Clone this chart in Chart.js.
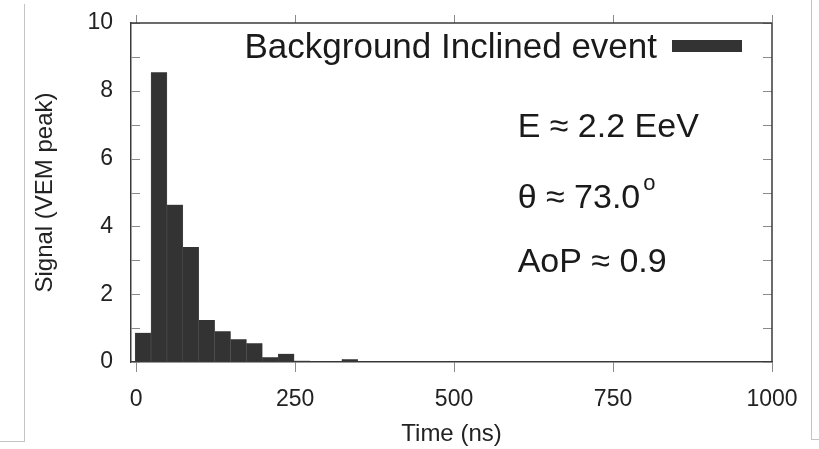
<!DOCTYPE html>
<html><head><meta charset="utf-8">
<script src="https://cdn.jsdelivr.net/npm/chart.js@4/dist/chart.umd.min.js"></script>
<style>
html,body{margin:0;padding:0;background:#fff;}
#wrap{position:relative;width:819px;height:449px;overflow:hidden;}
#c{position:absolute;left:0;top:0;}
.fl{position:absolute;background:#c4c4c4;}
</style></head><body>
<div id="wrap">
<div class="fl" style="left:24px;top:4px;width:1px;height:438px"></div>
<div class="fl" style="left:0;top:441px;width:25px;height:1px"></div>
<div class="fl" style="left:811px;top:0;width:1px;height:440px"></div>
<div class="fl" style="left:811px;top:439px;width:8px;height:1px"></div>
<canvas id="c" width="819" height="449"></canvas>
</div>
<script>
// ---- data ----
const timeNs    = [11, 36, 61, 86, 111, 136, 161, 186, 211, 236, 261, 286, 311, 336, 361, 386, 411, 436];
const signalVEM = [0.86, 8.55, 4.64, 3.39, 1.24, 0.91, 0.67, 0.55, 0.14, 0.24, 0.04, 0.03, 0.03, 0.08, 0.02, 0.02, 0.01, 0.01];
const xTickValues = [0, 250, 500, 750, 1000];
const yTickLabels = [0, 2, 4, 6, 8, 10];
const yMinorTicks = [0, 1, 2, 3, 4, 5, 6, 7, 8, 9, 10];
const seriesLabel = 'Background Inclined event';
const xTitle = 'Time (ns)';
const yTitle = 'Signal (VEM peak)';
const noteLines = ['E ≈ 2.2 EeV', 'θ ≈ 73.0', 'AoP ≈ 0.9'];
const noteSup = ['', 'o', ''];
const noteAnchorX = 600;               // ns
const noteAnchorY = [6.65, 4.55, 2.65]; // signal units (baselines)

const FONT = "'Liberation Sans', Arial, Helvetica, sans-serif";
const BAR = '#333333';

const decor = {
  id: 'decor',
  afterDraw(chart) {
    const {ctx, chartArea: {left, top, right, bottom}, scales: {x, y}} = chart;
    ctx.save();
    const line = (x1, y1, x2, y2) => { ctx.beginPath(); ctx.moveTo(x1, y1); ctx.lineTo(x2, y2); ctx.stroke(); };
    // inward y ticks on left and right
    ctx.strokeStyle = '#8a8a8a'; ctx.lineWidth = 1;
    y.ticks.forEach(t => {
      const py = Math.round(y.getPixelForValue(t.value)) + 0.5;
      line(left, py, left + 9, py);
      line(right - 9, py, right, py);
    });
    // outward top ticks
    x.ticks.forEach(t => {
      const px = Math.round(x.getPixelForValue(t.value)) + 0.5;
      line(px, top, px, top - 8);
    });
    // top and right frame
    ctx.strokeStyle = '#3a3a3a'; ctx.lineWidth = 1.5;
    line(left, top, right, top);
    line(right, top, right, bottom);
    // legend (text then sample box, gnuplot style)
    const ds = chart.data.datasets[0];
    ctx.fillStyle = '#1a1a1a';
    ctx.font = '35px ' + FONT;
    ctx.textAlign = 'right'; ctx.textBaseline = 'alphabetic';
    ctx.fillText(ds.label, right - 115, top + 35);
    ctx.fillStyle = ds.backgroundColor;
    ctx.fillRect(right - 100, top + 17, 70, 12);
    // annotations
    ctx.fillStyle = '#1a1a1a';
    ctx.textAlign = 'left';
    noteLines.forEach((s, i) => {
      const px = x.getPixelForValue(noteAnchorX);
      const py = y.getPixelForValue(noteAnchorY[i]);
      ctx.font = '34px ' + FONT;
      ctx.fillText(s, px, py);
      if (noteSup[i]) {
        const w = ctx.measureText(s).width;
        ctx.font = '22px ' + FONT;
        ctx.fillText(noteSup[i], px + w + 3, py - 18);
      }
    });
    ctx.restore();
  }
};

new Chart(document.getElementById('c'), {
  type: 'bar',
  data: {
    datasets: [{
      label: seriesLabel,
      data: timeNs.map((t, i) => ({x: t, y: signalVEM[i]})),
      backgroundColor: BAR,
      borderColor: '#555555',
      borderWidth: {left: 0.5, right: 0.5, top: 0, bottom: 0},
      borderSkipped: false,
      barPercentage: 1,
      categoryPercentage: 1
    }]
  },
  options: {
    responsive: false,
    devicePixelRatio: 1,
    animation: false,
    layout: {padding: {left: 0, top: 23, right: 47, bottom: 0}},
    plugins: {legend: {display: false}, tooltip: {enabled: false}},
    scales: {
      x: {
        type: 'linear', min: -8, max: 1000, offset: false,
        afterBuildTicks: s => { s.ticks = xTickValues.map(v => ({value: v})); },
        afterFit: s => { s.height = 87; s.paddingLeft = 0; s.paddingRight = 0; },
        grid: {offset: false, drawOnChartArea: false, drawTicks: true, tickLength: 10, color: '#8a8a8a', lineWidth: 1},
        border: {display: true, color: '#3a3a3a', width: 1.5},
        ticks: {font: {family: FONT, size: 23}, color: '#222', padding: 14, maxRotation: 0, autoSkip: false,
                callback: v => String(v)},
        title: {display: true, text: xTitle, font: {family: FONT, size: 24}, color: '#222', padding: {top: 0, bottom: 0}}
      },
      y: {
        min: 0, max: 10,
        afterBuildTicks: s => { s.ticks = yMinorTicks.map(v => ({value: v})); },
        afterFit: s => { s.width = 131; s.paddingTop = 0; s.paddingBottom = 0; },
        grid: {drawOnChartArea: false, drawTicks: false},
        border: {display: true, color: '#3a3a3a', width: 1.5},
        ticks: {font: {family: FONT, size: 23}, color: '#222', padding: 18,
                callback: v => yTickLabels.includes(v) ? String(v) : ''},
        title: {display: true, text: yTitle, font: {family: FONT, size: 24}, color: '#222', padding: {top: 31, bottom: 0}}
      }
    }
  },
  plugins: [decor]
});
</script>
</body></html>
